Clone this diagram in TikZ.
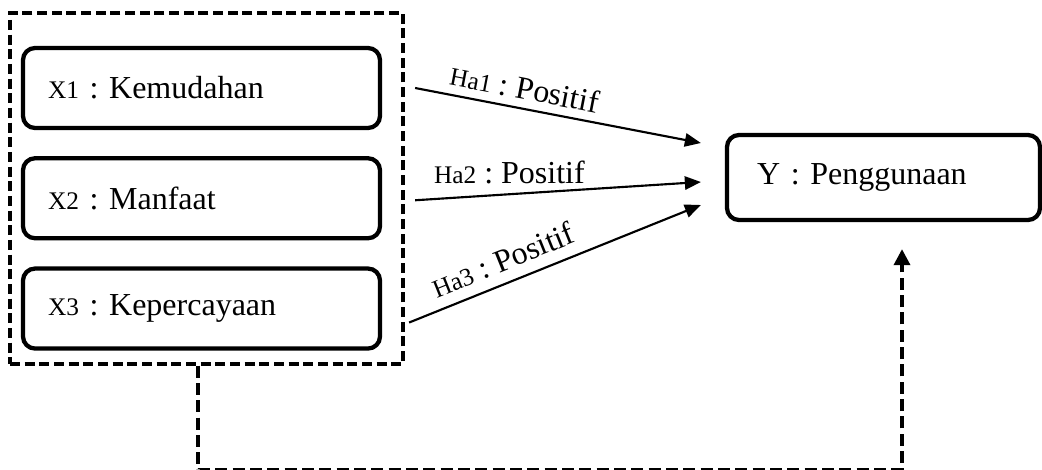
\documentclass[tikz,border=0pt]{standalone}
\usepackage{fontspec}
\setmainfont{Liberation Serif}
\usepackage{tikz}
\usetikzlibrary{positioning,arrows.meta,calc,fit}
\frenchspacing
\newcommand{\lblsmall}[1]{{\fontsize{19}{23}\selectfont #1}}
\tikzset{
  varbox/.style={rounded corners=9pt, draw=black, line width=3.2pt, align=left, text width=230.25pt, inner xsep=18.75pt, minimum height=60pt, font=\fontsize{24}{28}\selectfont},
  ybox/.style={rounded corners=9pt, draw=black, line width=3.2pt, align=left, text width=189.75pt, inner xsep=22.5pt, minimum height=63.75pt, font=\fontsize{24}{28}\selectfont},
  grpbox/.style={draw=black, line width=2.6pt, dash pattern=on 7.5pt off 3.5pt, inner sep=0pt},
  arr/.style={-{Triangle[length=12pt, width=10pt]}, line width=1.6pt, draw=black},
  fb/.style={-{Triangle[length=12pt, width=12pt]}, line width=2.6pt, draw=black, dash pattern=on 9pt off 4pt},
  hlbl/.style={font=\fontsize{24}{28}\selectfont, inner sep=2pt},
}
\begin{document}
\begin{tikzpicture}[x=0.75pt, y=-0.75pt]
  \useasboundingbox (0,0) rectangle (1042,470);
  % variables
  \node[varbox] (x1) at (201.5,88) {\lblsmall{X1} : Kemudahan};
  \node[varbox, below=19.5pt of x1] (x2) {\lblsmall{X2} : Manfaat};
  \node[varbox, below=19.5pt of x2] (x3) {\lblsmall{X3} : Kepercayaan};
  \node[grpbox, fit={(10,13) (403,364)}] (grp) {};
  \node[ybox] (y) at (883.5,177.5) {Y : Penggunaan};
  % hypotheses
  \draw[arr] ($(x1.east)+(33,0)$) -- node[hlbl, sloped, above=4pt, pos=0.37] {\lblsmall{Ha1} : Positif} ($(y.west)+(-24,-34.5)$);
  \draw[arr] ($(x2.east)+(33,2)$) -- node[hlbl, above=5pt, pos=0.33] {\lblsmall{Ha2} : Positif} ($(y.west)+(-24,4.5)$);
  \draw[arr] ($(x3.east)+(27,14)$) -- node[hlbl, sloped, above=6pt, pos=0.35] {\lblsmall{Ha3} : Positif} ($(y.west)+(-24,27.5)$);
  % simultaneous
  \draw[fb] ($(grp.south)+(-8.5,0)$) -- ++(0,104) -| ($(y.south)+(18.5,27)$);
\end{tikzpicture}
\end{document}
